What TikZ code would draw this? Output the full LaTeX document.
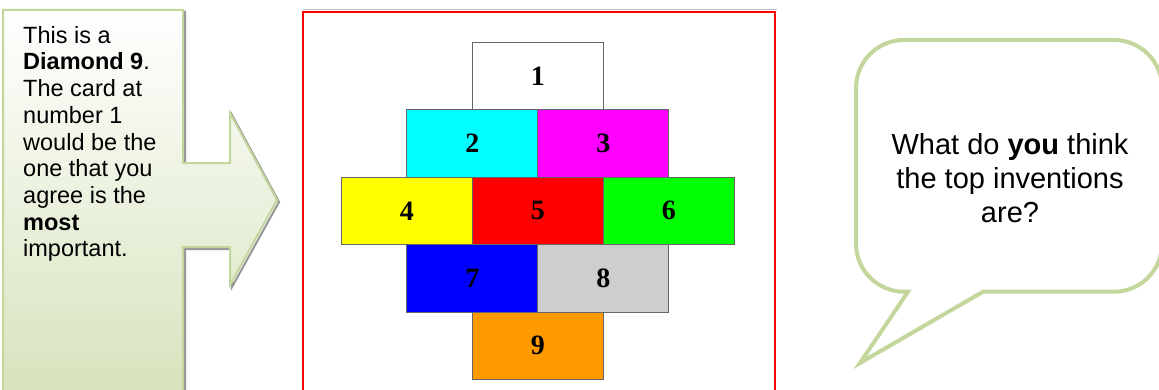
\documentclass[tikz,border=0pt]{standalone}
\usepackage{fontspec}
\setmainfont{Liberation Sans}
\newfontfamily\numfont{Liberation Serif}
\usepackage{tikz}
\usetikzlibrary{positioning}
\definecolor{calloutgreen}{RGB}{214,227,188}
\definecolor{calloutedge}{RGB}{195,214,155}
\definecolor{calloutshade}{RGB}{150,150,150}
\definecolor{framered}{RGB}{255,0,0}
\definecolor{cardcyan}{RGB}{0,255,255}
\definecolor{cardmagenta}{RGB}{255,0,255}
\definecolor{cardyellow}{RGB}{255,255,0}
\definecolor{cardred}{RGB}{255,0,0}
\definecolor{cardgreen}{RGB}{0,255,0}
\definecolor{cardblue}{RGB}{0,0,255}
\definecolor{cardorange}{RGB}{255,153,0}
\definecolor{cardgray}{RGB}{206,206,206}
\definecolor{frameline}{RGB}{102,102,102}

\begin{document}
\begin{tikzpicture}[
        x=1pt, y=1pt,
        card/.style={rectangle, draw=frameline, line width=0.9pt,
                     minimum width=131pt, minimum height=67.5pt,
                     inner sep=0pt, outer sep=0pt,
                     font=\numfont\bfseries\fontsize{28}{28}\selectfont},
        callout/.style={draw=calloutedge, line width=2pt,
                        top color=white, bottom color=calloutgreen,
                        preaction={draw=calloutshade, line width=2pt,
                                   transform canvas={shift={(2pt,-2pt)}}}},
        bubble/.style={draw=calloutedge, line width=4pt, fill=white,
                       line join=miter},
    ]
        \useasboundingbox (0,0) rectangle (1159,389);
        \clip (0,0) rectangle (1159,389);

        \draw[color=black!25, line width=1pt] (303,379.5) -- (777,379.5);
        \draw[color=framered, line width=1.2pt] (303,377) rectangle (775,-12);

        \node[card, fill=white] (c1) at (537.8,313.2) {1};
        \node[card, fill=cardcyan, below=0pt of c1.south west] (c2) {2};
        \node[card, fill=cardmagenta, right=0pt of c2] (c3) {3};
        \node[card, fill=cardred, below=0pt of c2.south east] (c5) {5};
        \node[card, fill=cardyellow, left=0pt of c5] (c4) {4};
        \node[card, fill=cardgreen, right=0pt of c5] (c6) {6};
        \node[card, fill=cardblue, below=0pt of c5.south west] (c7) {7};
        \node[card, fill=cardgray, right=0pt of c7] (c8) {8};
        \node[card, fill=cardorange, below=0pt of c7.south east] (c9) {9};

        \draw[bubble] (983,97.3) -- (1114,97.3)
            arc[start angle=-90, end angle=0, radius=48] -- (1162,301)
            arc[start angle=0, end angle=90, radius=48] -- (904,349)
            arc[start angle=90, end angle=180, radius=48] -- (856,145.3)
            arc[start angle=180, end angle=270, radius=48] -- (908,97.3)
            -- (860,26) -- cycle;
        \node[align=center, inner sep=0pt,
              font=\fontsize{29}{33.7}\selectfont] (ask) at (1010,211)
            {What do \textbf{you} think\\the top inventions\\are?};

        \draw[callout] (3,379) -- (183,379) -- (183,226) -- (230,226)
            -- (230,276) -- (277,189) -- (230,104) -- (230,142)
            -- (183,142) -- (183,-12) -- (3,-12) -- cycle;
        \node[anchor=north west, inner sep=0pt, align=left,
              font=\fontsize{23.5}{26.7}\selectfont] (note) at (23,363)
            {This is a\\\textbf{Diamond 9}.\\The card at\\number 1\\would be the\\
             one that you\\agree is the\\\textbf{most}\\important.};
    \end{tikzpicture}
\end{document}
